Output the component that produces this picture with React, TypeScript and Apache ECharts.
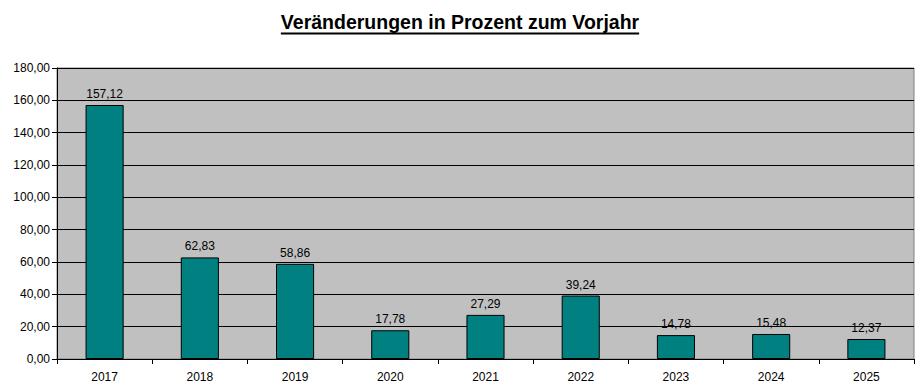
import React, { useEffect, useRef } from "react";
import * as echarts from "echarts";

const categories = ["2017", "2018", "2019", "2020", "2021", "2022", "2023", "2024", "2025"];
const values = [157.12, 62.83, 58.86, 17.78, 27.29, 39.24, 14.78, 15.48, 12.37];
const titleText = "Veränderungen in Prozent zum Vorjahr";

const fmt = (v: number) => v.toFixed(2).replace(".", ",");
const TITLE_FONT = "bold 19.5px 'Liberation Sans', Arial, sans-serif";

export default function App() {
  const ref = useRef<HTMLDivElement>(null);
  useEffect(() => {
    if (!ref.current) return;
    document.body.style.margin = "0";
    const chart = echarts.init(ref.current, undefined, { renderer: "svg" });
    let tw = 361;
    try {
      const ctx = document.createElement("canvas").getContext("2d");
      if (ctx) {
        ctx.font = TITLE_FONT;
        tw = ctx.measureText(titleText).width;
      }
    } catch (e) {}
    const cx = 460;
    chart.setOption({
      animation: false,
      backgroundColor: "#ffffff",
      textStyle: { fontFamily: "Liberation Sans, Arial, sans-serif" },
      graphic: [
        {
          type: "text",
          x: cx,
          y: 22,
          style: {
            text: titleText,
            font: TITLE_FONT,
            fill: "#000",
            align: "center",
            verticalAlign: "middle",
          },
        },
        {
          type: "line",
          shape: { x1: cx - tw / 2, y1: 33.5, x2: cx + tw / 2, y2: 33.5 },
          style: { stroke: "#000", lineWidth: 2 },
        },
      ],
      grid: {
        left: 57,
        right: 6,
        top: 68,
        bottom: 33,
        show: true,
        backgroundColor: "#C0C0C0",
        borderColor: "#808080",
        borderWidth: 1,
      },
      xAxis: {
        type: "category",
        data: categories,
        boundaryGap: true,
        axisLine: { show: true, lineStyle: { color: "#000", width: 1 } },
        axisTick: { show: true, alignWithLabel: false, length: 5, lineStyle: { color: "#000" } },
        axisLabel: { color: "#000", fontSize: 12, margin: 12 },
        splitLine: { show: false },
      },
      yAxis: {
        type: "value",
        min: 0,
        max: 180,
        interval: 20,
        axisLine: { show: true, lineStyle: { color: "#000", width: 1 } },
        axisTick: { show: true, length: 5, lineStyle: { color: "#000" } },
        axisLabel: { color: "#000", fontSize: 12, margin: 7, formatter: (v: number) => fmt(v) },
        splitLine: { show: true, lineStyle: { color: "#000", width: 1 } },
      },
      series: [
        {
          type: "bar",
          data: values,
          barWidth: "40%",
          itemStyle: { color: "#008080", borderColor: "#000", borderWidth: 1 },
          label: {
            show: true,
            position: "top",
            distance: 5,
            color: "#000",
            fontSize: 12,
            formatter: (p: any) => fmt(p.value),
          },
        },
      ],
    });
    return () => chart.dispose();
  }, []);
  return <div ref={ref} style={{ width: 920, height: 392 }} />;
}
